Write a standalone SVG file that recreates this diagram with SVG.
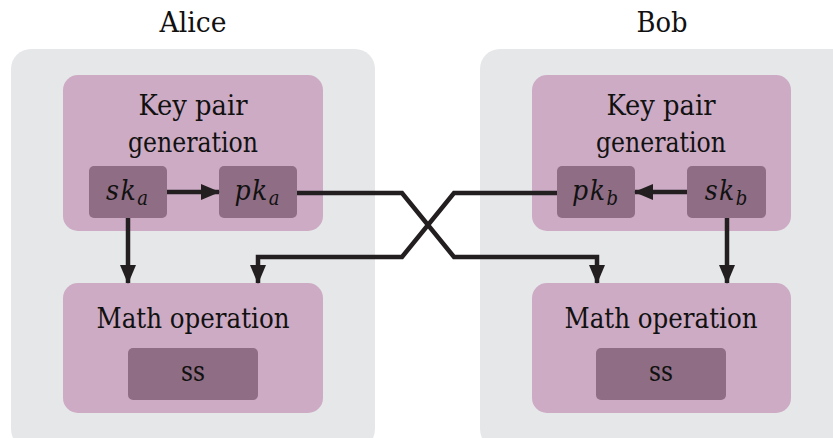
<svg xmlns="http://www.w3.org/2000/svg" width="833" height="438" viewBox="0 0 833 438">
  <style>
    .party { fill: #e6e7e9; }
    .block { fill: #cdabc4; }
    .item { fill: #8f6d84; }
    text { font-family: "DejaVu Serif", "Liberation Serif", serif; font-stretch: condensed; fill: #111; text-anchor: middle; }
    .title { font-size: 27px; }
    .label { font-size: 27px; }
    .math { font-size: 28px; font-style: italic; letter-spacing: 1.5px; }
    .sub { font-size: 20px; letter-spacing: 0; }
    .wire { fill: none; stroke: #231f20; stroke-width: 4.5; stroke-linejoin: miter; }
  </style>
  <defs>
    <marker id="head" markerUnits="userSpaceOnUse" markerWidth="20" markerHeight="18" refX="18" refY="8" orient="auto">
      <path d="M0,0 L19,8 L0,16 Z" fill="#231f20"/>
    </marker>
  </defs>

  <rect width="833" height="438" fill="#ffffff"/>

  <!-- Alice -->
  <g id="alice">
    <text class="title" x="193" y="32" textLength="67" lengthAdjust="spacingAndGlyphs">Alice</text>
    <rect class="party" x="11" y="49" width="364" height="400" rx="20"/>
  </g>
  <g id="alice-keygen">
    <rect class="block" x="63" y="75" width="260" height="156" rx="15"/>
    <text class="label" x="193" y="115" textLength="109" lengthAdjust="spacingAndGlyphs">Key pair</text>
    <text class="label" x="193" y="152" textLength="130" lengthAdjust="spacingAndGlyphs">generation</text>
  </g>
  <g id="alice-sk">
    <rect class="item" x="89" y="166" width="78" height="52" rx="5"/>
    <text class="math" x="127" y="200">sk<tspan class="sub" dy="5">a</tspan></text>
  </g>
  <g id="alice-pk">
    <rect class="item" x="219" y="166" width="78" height="52" rx="5"/>
    <text class="math" x="257" y="200">pk<tspan class="sub" dy="5">a</tspan></text>
  </g>
  <g id="alice-math">
    <rect class="block" x="63" y="283" width="260" height="130" rx="15"/>
    <text class="label" x="193" y="328" textLength="193" lengthAdjust="spacingAndGlyphs">Math operation</text>
  </g>
  <g id="alice-ss">
    <rect class="item" x="128" y="348" width="130" height="52" rx="5"/>
    <text class="label" x="193" y="381" textLength="24" lengthAdjust="spacingAndGlyphs">ss</text>
  </g>

  <!-- Bob -->
  <g id="bob">
    <text class="title" x="662" y="32" textLength="51" lengthAdjust="spacingAndGlyphs">Bob</text>
    <rect class="party" x="480" y="49" width="380" height="400" rx="20"/>
  </g>
  <g id="bob-keygen">
    <rect class="block" x="532" y="75" width="259" height="156" rx="15"/>
    <text class="label" x="661" y="115" textLength="109" lengthAdjust="spacingAndGlyphs">Key pair</text>
    <text class="label" x="661" y="152" textLength="130" lengthAdjust="spacingAndGlyphs">generation</text>
  </g>
  <g id="bob-pk">
    <rect class="item" x="557" y="166" width="78" height="52" rx="5"/>
    <text class="math" x="595" y="200">pk<tspan class="sub" dy="5">b</tspan></text>
  </g>
  <g id="bob-sk">
    <rect class="item" x="687" y="166" width="79" height="52" rx="5"/>
    <text class="math" x="726" y="200">sk<tspan class="sub" dy="5">b</tspan></text>
  </g>
  <g id="bob-math">
    <rect class="block" x="532" y="283" width="259" height="130" rx="15"/>
    <text class="label" x="661" y="328" textLength="193" lengthAdjust="spacingAndGlyphs">Math operation</text>
  </g>
  <g id="bob-ss">
    <rect class="item" x="596" y="348" width="130" height="52" rx="5"/>
    <text class="label" x="661" y="381" textLength="24" lengthAdjust="spacingAndGlyphs">ss</text>
  </g>

  <!-- connectors -->
  <g id="connectors">
    <path class="wire" d="M167,192 H219" marker-end="url(#head)"/>
    <path class="wire" d="M128,218 V283" marker-end="url(#head)"/>
    <path class="wire" d="M687,192 H635" marker-end="url(#head)"/>
    <path class="wire" d="M727,218 V283" marker-end="url(#head)"/>
    <path class="wire" d="M297,193 H402 L454,257 H597 V283" marker-end="url(#head)"/>
    <path class="wire" d="M557,193 H454 L402,257 H258 V283" marker-end="url(#head)"/>
  </g>
</svg>
